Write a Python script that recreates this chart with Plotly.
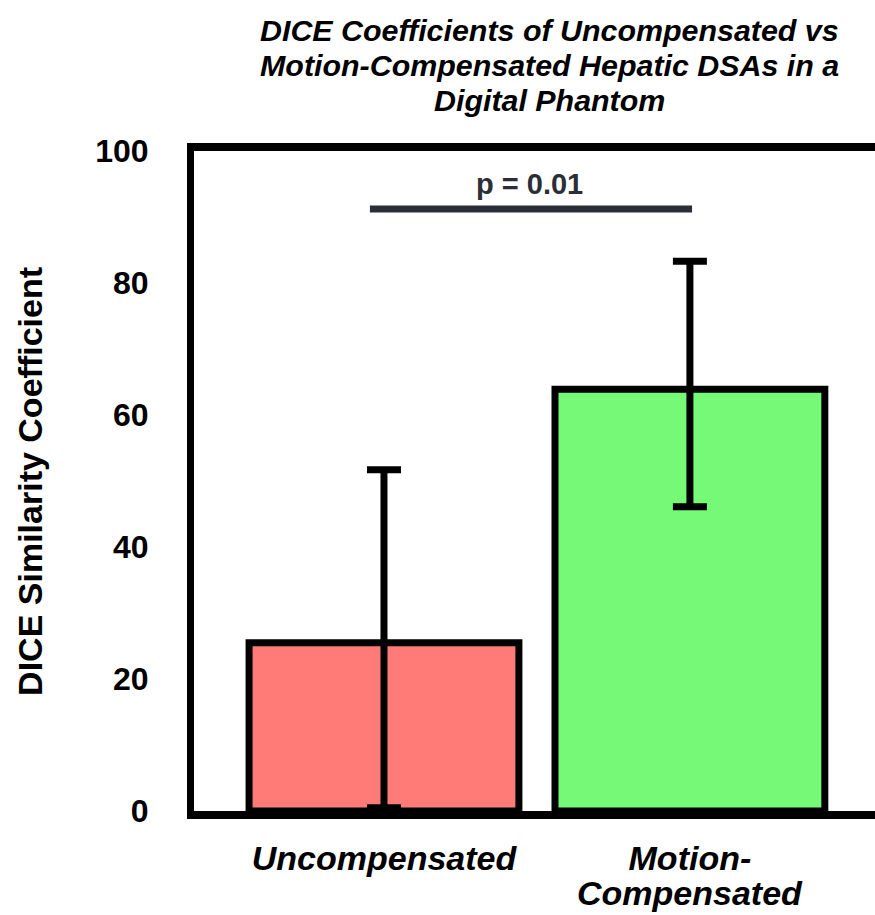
import plotly.graph_objects as go

# Group labels and summary statistics (DICE similarity, %)
groups = ["Uncompensated", "Motion-Compensated"]
group_ticks = ["Uncompensated", "Motion-"]
group_ticks_line2 = ["", "Compensated"]
mean_dice = [25.5, 63.9]
err_plus = [26.2, 19.4]
err_minus = [25.0, 17.8]
bar_colors = ["#FF7B77", "#75F977"]

y_ticks = [0, 20, 40, 60, 80, 100]

# Significance bracket between the two groups
sig_y = 91.2
sig_x = [-0.046, 1.007]
sig_label = "p = 0.01"

title_lines = [
    "DICE Coefficients of Uncompensated vs",
    "Motion-Compensated Hepatic DSAs in a",
    "Digital Phantom",
]

SANS = "Liberation Sans, Arial, Helvetica, sans-serif"

x_pos = list(range(len(groups)))

fig = go.Figure()
fig.add_trace(go.Bar(
    x=x_pos,
    y=mean_dice,
    width=0.882,
    marker=dict(color=bar_colors, line=dict(color="black", width=7)),
    error_y=dict(type="data", array=err_plus, arrayminus=err_minus,
                 color="black", thickness=7, width=17, visible=True),
    showlegend=False,
))

fig.add_shape(type="line", xref="x", yref="y",
              x0=sig_x[0], x1=sig_x[1], y0=sig_y, y1=sig_y,
              line=dict(color="#2B2E36", width=7))
fig.add_annotation(x=0.476, y=95.0, xref="x", yref="y",
                   text=sig_label, showarrow=False, yanchor="middle",
                   font=dict(family=SANS, size=29, color="#2B2E36", weight="bold"))

# Three-line italic title
title_y = [1.183, 1.130, 1.077]
for line, ty in zip(title_lines, title_y):
    fig.add_annotation(x=0.522, y=ty, xref="paper", yref="paper",
                       text=line, showarrow=False, xanchor="center", yanchor="middle",
                       font=dict(family=SANS, size=30.4, color="black",
                                 weight="bold", style="italic"))

# Rotated y-axis title
fig.add_annotation(x=-0.241, y=0.5, xref="paper", yref="paper",
                   text="DICE Similarity Coefficient", showarrow=False,
                   textangle=-90, xanchor="center", yanchor="middle",
                   font=dict(family=SANS, size=34, color="black", weight="bold"))

# Second line of the wrapped category label, kept at a tight line spacing
for xi, txt in zip(x_pos, group_ticks_line2):
    if txt:
        fig.add_annotation(x=xi, y=-0.124, xref="x", yref="paper",
                           text=txt, showarrow=False, xanchor="center", yanchor="middle",
                           font=dict(family=SANS, size=34, color="black",
                                     weight="bold", style="italic"))

fig.update_xaxes(
    range=[-0.621, 1.605],
    tickmode="array", tickvals=x_pos, ticktext=group_ticks,
    tickfont=dict(family=SANS, size=34, color="black", weight="bold", style="italic"),
    showline=True, linecolor="black", linewidth=8, mirror=True,
    ticks="", showgrid=False, zeroline=False,
    ticklabelstandoff=10,
)
fig.update_yaxes(
    range=[0, 100],
    tickmode="array", tickvals=y_ticks,
    tickfont=dict(family=SANS, size=32, color="black", weight="bold"),
    showline=True, linecolor="black", linewidth=7,
    ticks="", showgrid=False, zeroline=False,
    ticklabelstandoff=32,
)

fig.update_layout(
    width=875, height=915,
    margin=dict(l=194, r=0, t=151, b=104, autoexpand=False),
    paper_bgcolor="white", plot_bgcolor="white",
    bargap=0.1,
)

fig.write_html("out.html")
